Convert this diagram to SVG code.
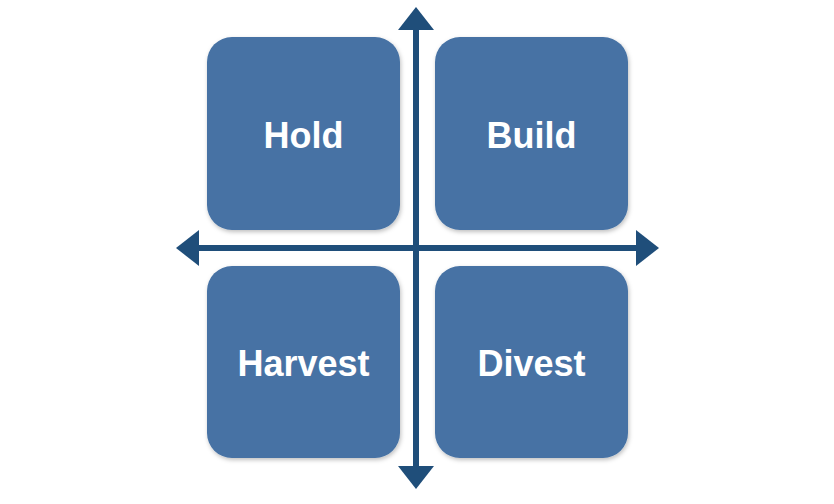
<svg xmlns="http://www.w3.org/2000/svg" width="834" height="504" viewBox="0 0 834 504">
<style>
.box{fill:#4672A4;filter:url(#sh)}
.lbl{fill:#ffffff;font-family:"Liberation Sans",Arial,sans-serif;font-weight:bold;font-size:36px;text-anchor:middle}
.axis{stroke:#1F4E7A;stroke-width:6;fill:none}
.head{fill:#1F4E7A}
</style>
<defs>
<filter id="sh" x="-10%" y="-10%" width="130%" height="130%">
<feDropShadow dx="1" dy="2" stdDeviation="2" flood-color="#000" flood-opacity="0.25"/>
</filter>
</defs>
<rect width="834" height="504" fill="#ffffff"/>
<g id="hold"><rect class="box" x="207" y="37" width="193" height="193" rx="25"/><text class="lbl" x="303.5" y="148">Hold</text></g>
<g id="build"><rect class="box" x="435" y="37" width="193" height="193" rx="25"/><text class="lbl" x="531.5" y="148">Build</text></g>
<g id="harvest"><rect class="box" x="207" y="266" width="193" height="192" rx="25"/><text class="lbl" x="303.5" y="376">Harvest</text></g>
<g id="divest"><rect class="box" x="435" y="266" width="193" height="192" rx="25"/><text class="lbl" x="531.5" y="376">Divest</text></g>
<g id="connectors">
<line class="axis" x1="416" y1="26" x2="416" y2="470"/>
<polygon class="head" points="416,7 434,30 398,30"/>
<polygon class="head" points="416,489 434,466 398,466"/>
<line class="axis" x1="196" y1="248" x2="640" y2="248"/>
<polygon class="head" points="176,248 199,230 199,266"/>
<polygon class="head" points="659,248 636,230 636,266"/>
</g>
</svg>
